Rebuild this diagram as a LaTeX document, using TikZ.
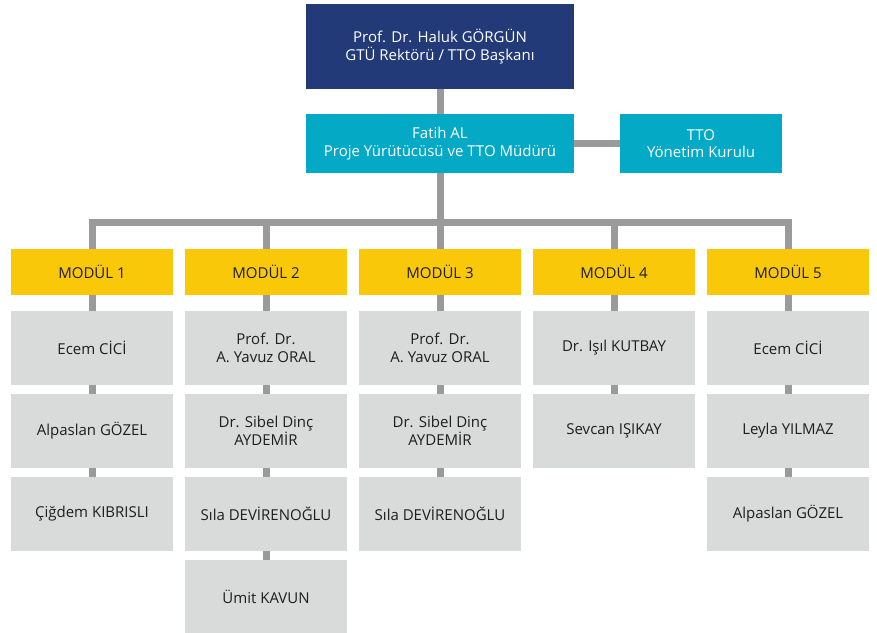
\documentclass[tikz,border=0pt]{standalone}
\usepackage{fontspec}
\setmainfont{Open Sans}
\definecolor{navy}{HTML}{233A78}
\definecolor{cyanbox}{HTML}{04A9C6}
\definecolor{yellowbox}{HTML}{F9C909}
\definecolor{graybox}{HTML}{D9DADA}
\definecolor{conncol}{HTML}{9A9A9A}
\definecolor{darktext}{HTML}{1E1E1E}
\begin{document}
\begin{tikzpicture}[x=1pt,y=-1pt,
  base/.style={rectangle,inner sep=0pt,align=center,font=\fontsize{15}{17.5}\selectfont},
  head/.style={base,fill=navy,text=white,minimum width=268pt,minimum height=85pt},
  mgr/.style={base,fill=cyanbox,text=white,minimum height=59pt},
  modbox/.style={base,fill=yellowbox,text=darktext,minimum width=162pt,minimum height=46pt},
  person/.style={base,fill=graybox,text=darktext,minimum width=162pt,minimum height=74pt},
  conn/.style={draw=conncol,line width=7pt,line join=miter}]
\useasboundingbox (0,0) rectangle (877,632);
% top
\node[head] (rector) at (440,46.5) {Prof. Dr. Haluk GÖRGÜN\\GTÜ Rektörü / TTO Başkanı};
\node[mgr,minimum width=268pt] (fatih) at (440,143.5) {Fatih AL\\Proje Yürütücüsü ve TTO Müdürü};
\node[mgr,minimum width=162pt] (tto) at (701,143.5) {TTO\\Yönetim Kurulu};
% modules
\node[modbox] (m1) at (92,272) {MODÜL 1};
\node[modbox] (m2) at (266,272) {MODÜL 2};
\node[modbox] (m3) at (440,272) {MODÜL 3};
\node[modbox] (m4) at (614,272) {MODÜL 4};
\node[modbox] (m5) at (788,272) {MODÜL 5};
\coordinate (bus) at (0,222);
% people
\node[person] (a1) at (92,348) {Ecem CİCİ};
\node[person] (a2) at (92,431) {Alpaslan GÖZEL};
\node[person] (a3) at (92,514) {Çiğdem KIBRISLI};
\node[person] (b1) at (266,348) {Prof. Dr.\\A. Yavuz ORAL};
\node[person] (b2) at (266,431) {Dr. Sibel Dinç\\AYDEMİR};
\node[person] (b3) at (266,514) {Sıla DEVİRENOĞLU};
\node[person] (b4) at (266,597) {Ümit KAVUN};
\node[person] (c1) at (440,348) {Prof. Dr.\\A. Yavuz ORAL};
\node[person] (c2) at (440,431) {Dr. Sibel Dinç\\AYDEMİR};
\node[person] (c3) at (440,514) {Sıla DEVİRENOĞLU};
\node[person] (d1) at (614,348) {Dr. Işıl KUTBAY};
\node[person] (d2) at (614,431) {Sevcan IŞIKAY};
\node[person] (e1) at (788,348) {Ecem CİCİ};
\node[person] (e2) at (788,431) {Leyla YILMAZ};
\node[person] (e3) at (788,514) {Alpaslan GÖZEL};
% connectors
\draw[conn] (rector.south) -- (fatih.north);
\draw[conn] (fatih.east) -- (tto.west);
\draw[conn] (fatih.south) -- (fatih.south |- bus);
\draw[conn] (m1.north) -- (m1.north |- bus) -- (m5.north |- bus) -- (m5.north);
\draw[conn] (m2.north) -- (m2.north |- bus);
\draw[conn] (m3.north) -- (m3.north |- bus);
\draw[conn] (m4.north) -- (m4.north |- bus);
\foreach \u/\v in {m1/a1,a1/a2,a2/a3,m2/b1,b1/b2,b2/b3,b3/b4,m3/c1,c1/c2,c2/c3,m4/d1,d1/d2,m5/e1,e1/e2,e2/e3}
  \draw[conn] (\u.south) -- (\v.north);
\end{tikzpicture}
\end{document}
